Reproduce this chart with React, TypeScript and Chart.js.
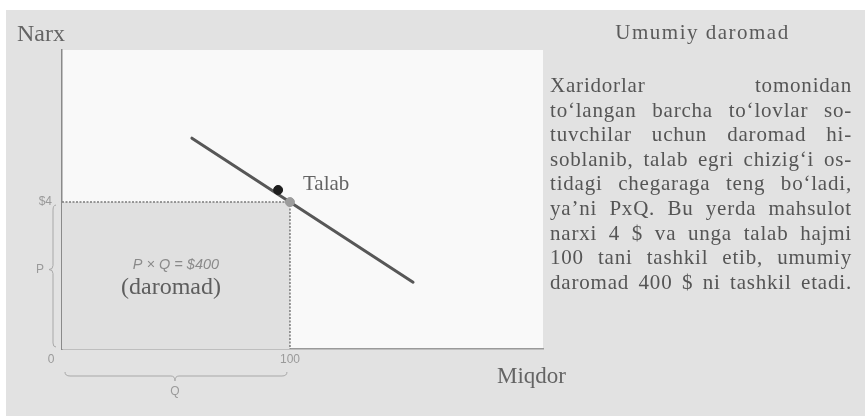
import React, { useEffect, useRef } from "react";
import { Chart, registerables } from "chart.js";

Chart.register(...registerables);

// Demand curve (quantity, price) end points
const demandQty = [57, 154];
const demandPrice = [5.74, 1.82];

// Chosen market point
const revenueQty = 100;
const revenuePrice = 4;

// Marker drawn just above the curve
const markerQty = [94.8];
const markerPrice = [4.33];

// Axis labels
const qtyTickLabels = ["0", "100"];
const priceTickLabels = ["$4"];
const yTitle = "Narx";
const xTitle = "Miqdor";
const curveLabel = "Talab";
const areaLabel = "(daromad)";

const heading = "Umumiy daromad";
const paragraphLines = [
  "Xaridorlar tomonidan",
  "to‘langan barcha to‘lovlar so-",
  "tuvchilar uchun daromad hi-",
  "soblanib, talab egri chizig‘i os-",
  "tidagi chegaraga teng bo‘ladi,",
  "ya’ni PxQ. Bu yerda mahsulot",
  "narxi 4 $ va unga talab hajmi",
  "100 tani tashkil etib, umumiy",
  "daromad 400 $ ni tashkil etadi.",
];

const SERIF = '"Liberation Serif", "Times New Roman", serif';
const SANS = '"Liberation Sans", Arial, sans-serif';

const plotBackground = {
  id: "plotBackground",
  beforeDraw(chart: any) {
    const { ctx, chartArea: a } = chart;
    ctx.save();
    ctx.fillStyle = "#f9f9f9";
    ctx.fillRect(a.left, a.top, a.right - a.left, a.bottom - a.top);
    ctx.restore();
  },
};

const annotations = {
  id: "annotations",
  afterDraw(chart: any) {
    const { ctx, chartArea: a, scales } = chart;
    const xs = scales.x;
    const ys = scales.y;
    const x0 = xs.getPixelForValue(0);
    const xq = xs.getPixelForValue(revenueQty);
    const y0 = ys.getPixelForValue(0);
    const yp = ys.getPixelForValue(revenuePrice);
    ctx.save();

    // small tick labels
    ctx.fillStyle = "#9a9a9a";
    ctx.font = `12px ${SANS}`;
    ctx.textBaseline = "middle";
    ctx.textAlign = "right";
    ctx.fillText(priceTickLabels[0], x0 - 10, yp);
    ctx.textAlign = "center";
    ctx.fillText(qtyTickLabels[0], x0 - 11, y0 + 11);
    ctx.fillText(qtyTickLabels[1], xq, y0 + 11);

    // brace for P on the left
    ctx.strokeStyle = "#a8a8a8";
    ctx.lineWidth = 1;
    const bx = x0 - 9;
    const pMid = (yp + y0) / 2 - 6;
    ctx.beginPath();
    ctx.moveTo(bx + 3, yp + 3);
    ctx.quadraticCurveTo(bx, yp + 3, bx, yp + 8);
    ctx.lineTo(bx, pMid - 4);
    ctx.quadraticCurveTo(bx, pMid, bx - 4, pMid);
    ctx.quadraticCurveTo(bx, pMid, bx, pMid + 4);
    ctx.lineTo(bx, y0 - 6);
    ctx.quadraticCurveTo(bx, y0 - 2, bx + 3, y0 - 2);
    ctx.stroke();
    ctx.textAlign = "center";
    ctx.fillText("P", bx - 13, pMid);

    // brace for Q under the axis
    const by = y0 + 27;
    const qMid = (x0 + xq) / 2 - 1;
    ctx.beginPath();
    ctx.moveTo(x0 + 3, by - 4);
    ctx.quadraticCurveTo(x0 + 3, by, x0 + 8, by);
    ctx.lineTo(qMid - 4, by);
    ctx.quadraticCurveTo(qMid, by, qMid, by + 5);
    ctx.quadraticCurveTo(qMid, by, qMid + 4, by);
    ctx.lineTo(xq - 8, by);
    ctx.quadraticCurveTo(xq - 3, by, xq - 3, by - 4);
    ctx.stroke();
    ctx.fillText("Q", qMid, by + 16);

    // area text
    ctx.fillStyle = "#8a8a8a";
    ctx.font = `italic 14.5px ${SANS}`;
    ctx.fillText(`P × Q = $${revenuePrice * revenueQty}`, qMid + 1, y0 - 84);
    ctx.fillStyle = "#5e5e5e";
    ctx.font = `24px ${SERIF}`;
    ctx.fillText(areaLabel, qMid - 4, y0 - 61);

    // curve label
    ctx.font = `21px ${SERIF}`;
    ctx.textAlign = "left";
    ctx.fillStyle = "#646464";
    ctx.fillText(curveLabel, xq + 13, yp - 18);

    // axis titles
    ctx.font = `24px ${SERIF}`;
    ctx.fillText(yTitle, a.left - 45, a.top - 15);
    ctx.font = `23px ${SERIF}`;
    ctx.fillText(xTitle, 497, a.bottom + 28);
    ctx.restore();
  },
};

export default function App() {
  const canvasRef = useRef<HTMLCanvasElement | null>(null);

  useEffect(() => {
    const canvas = canvasRef.current;
    if (!canvas) return;
    const chart = new Chart(canvas, {
      type: "line",
      data: {
        datasets: [
          {
            label: "marker",
            data: markerQty.map((q, i) => ({ x: q, y: markerPrice[i] })),
            showLine: false,
            pointRadius: 4.5,
            pointBackgroundColor: "#1e1e1e",
            pointBorderColor: "#1e1e1e",
            order: 0,
          },
          {
            label: "point",
            data: [{ x: revenueQty, y: revenuePrice }],
            showLine: false,
            pointRadius: 4.5,
            pointBackgroundColor: "#9c9c9c",
            pointBorderColor: "#9c9c9c",
            order: 1,
          },
          {
            label: "demand",
            data: demandQty.map((q, i) => ({ x: q, y: demandPrice[i] })),
            borderColor: "#575757",
            borderWidth: 3,
            borderCapStyle: "round",
            pointRadius: 0,
            order: 2,
          },
          {
            label: "revenue",
            data: [
              { x: 0, y: revenuePrice },
              { x: revenueQty, y: revenuePrice },
              { x: revenueQty, y: 0 },
            ],
            borderColor: "#7a7a7a",
            borderWidth: 1.5,
            borderDash: [2, 1.5],
            backgroundColor: "#e0e0e0",
            fill: "origin",
            pointRadius: 0,
            order: 3,
          },
        ],
      },
      options: {
        responsive: false,
        animation: false,
        events: [],
        layout: { padding: { left: 62, top: 50, right: 322, bottom: 67 } },
        plugins: { legend: { display: false }, tooltip: { enabled: false } },
        scales: {
          x: {
            type: "linear",
            min: 0,
            max: 211,
            grid: { display: false, drawTicks: false },
            ticks: { display: false },
            border: { display: true, color: "#9a9a9a", width: 1.5 },
          },
          y: {
            type: "linear",
            min: 0,
            max: 8.14,
            grid: { display: false, drawTicks: false },
            ticks: { display: false },
            border: { display: true, color: "#8a8a8a", width: 1.5 },
          },
        },
      },
      plugins: [plotBackground, annotations],
    });
    return () => chart.destroy();
  }, []);

  return (
    <div
      style={{
        position: "fixed",
        left: 0,
        top: 0,
        width: 865,
        height: 416,
        background: "#ffffff",
        overflow: "hidden",
      }}
    >
      <div
        style={{
          position: "absolute",
          left: 6,
          top: 10,
          width: 859,
          height: 406,
          background: "#e2e2e2",
        }}
      />
      <canvas
        ref={canvasRef}
        width={865}
        height={416}
        style={{ position: "absolute", left: 0, top: 0, width: 865, height: 416 }}
      />
      <div
        style={{
          position: "absolute",
          left: 560,
          top: 19,
          width: 285,
          textAlign: "center",
          fontFamily: SERIF,
          fontSize: 21,
          letterSpacing: 1.5,
          lineHeight: "26px",
          color: "#5a5a5a",
        }}
      >
        {heading}
      </div>
      <div
        style={{
          position: "absolute",
          left: 550,
          top: 73,
          width: 302,
          fontFamily: SERIF,
          fontSize: 21,
          letterSpacing: 0.8,
          color: "#555555",
        }}
      >
        {paragraphLines.map((line, i) => (
          <div
            key={i}
            style={{
              display: "flex",
              justifyContent: "space-between",
              height: 24.6,
              lineHeight: "24.6px",
              whiteSpace: "nowrap",
            }}
          >
            {line.split(" ").map((w, j) => (
              <span key={j}>{w}</span>
            ))}
          </div>
        ))}
      </div>
    </div>
  );
}
